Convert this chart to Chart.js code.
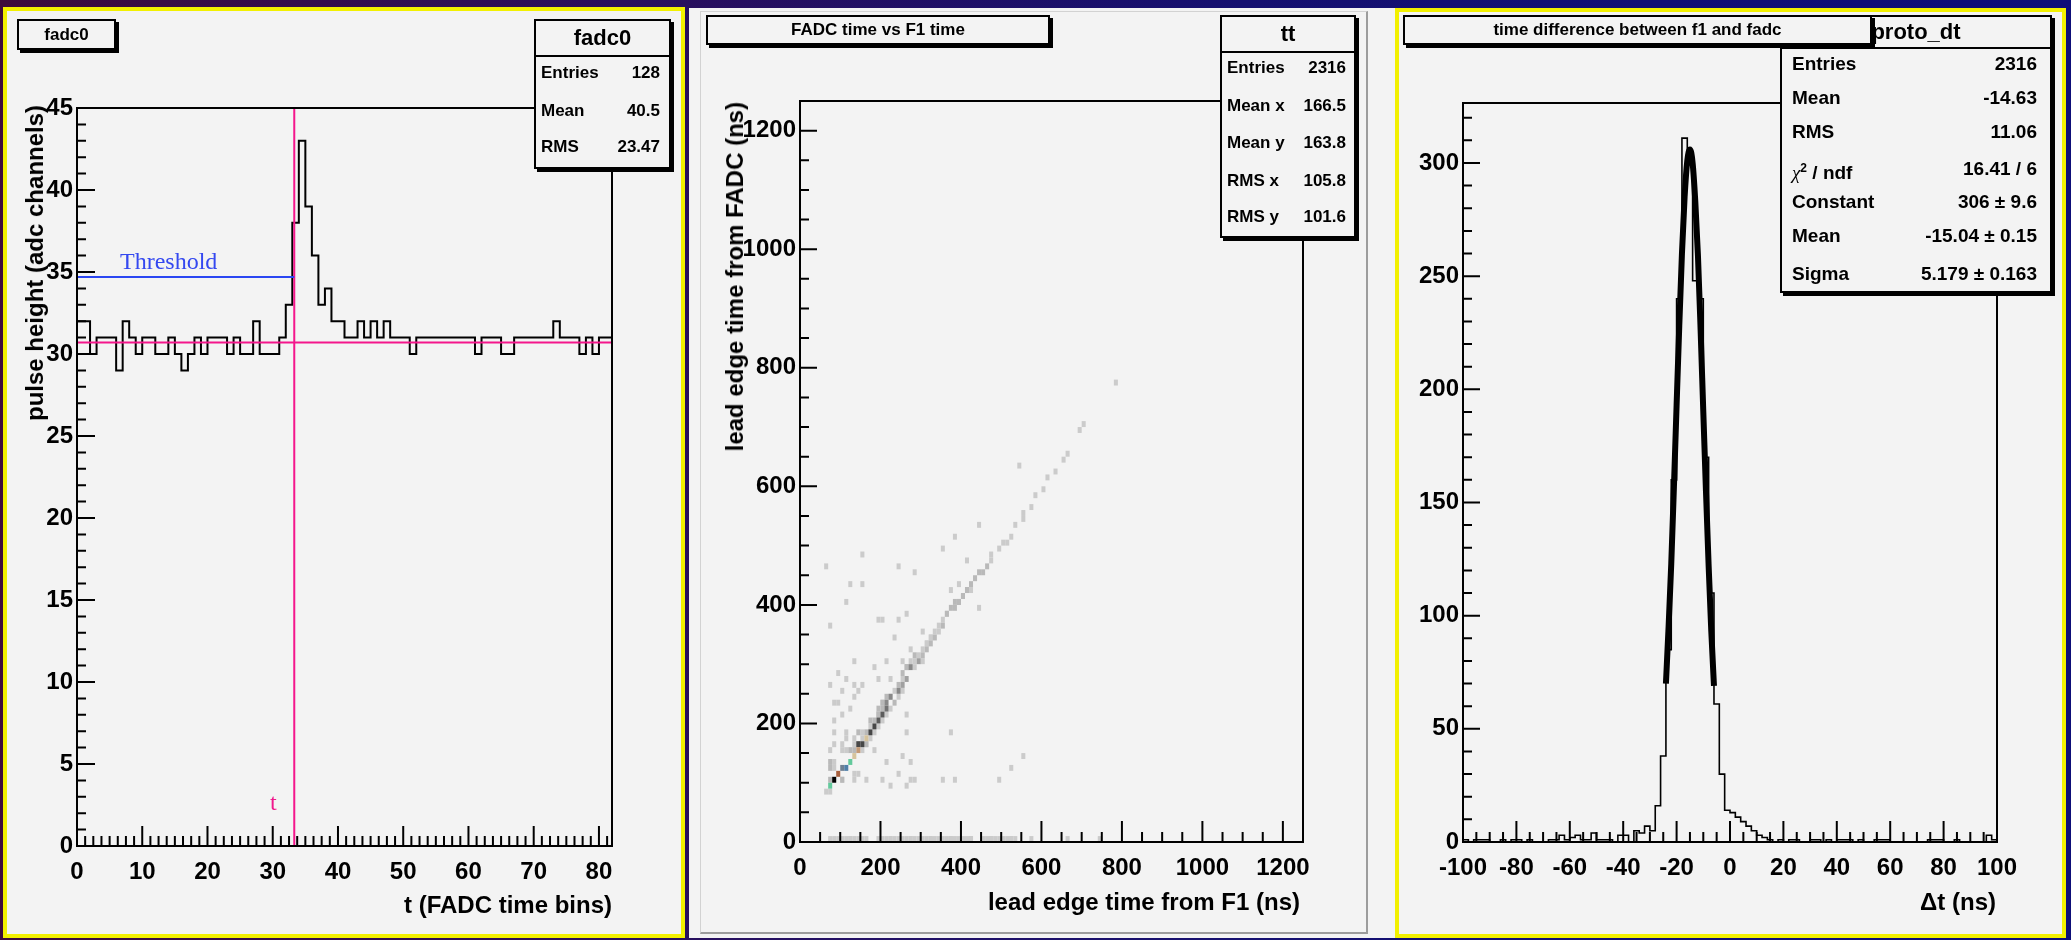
<!DOCTYPE html>
<html>
<head>
<meta charset="utf-8">
<title>FADC / F1 timing</title>
<script src="https://cdn.jsdelivr.net/npm/chart.js@4.4.1/dist/chart.umd.min.js"></script>
<style>
  html, body { margin:0; padding:0; }
  body { width:2071px; height:940px; position:relative; overflow:hidden;
         background: linear-gradient(90deg, #3d0b3b 0%, #2a0f5c 30%, #151070 60%, #0d0e78 100%);
         font-family: 'Liberation Sans', Arial, Helvetica, sans-serif; }
  .panel { position:absolute; background:#f3f3f3; box-sizing:border-box; }
  .yellow { border:4px solid #f2f000; }
  .bevel { position:absolute; box-sizing:border-box; border-left:1px solid #d2d2d2; border-top:1px solid #d2d2d2;
           border-right:2px solid #9c9c9c; border-bottom:2px solid #9c9c9c; }
  canvas { position:absolute; top:0; z-index:2; }
  .tbox { position:absolute; box-sizing:border-box; border:2px solid #000; background:#f3f3f3;
          box-shadow:3px 3px 0 #000; font-weight:bold; font-size:17px; z-index:6;
          display:flex; align-items:center; justify-content:center; white-space:nowrap; }
  .sbox { position:absolute; box-sizing:border-box; border:2px solid #000; background:#f3f3f3;
          box-shadow:3px 3px 0 #000; font-weight:bold; z-index:5; }
  .shead { position:absolute; left:0; right:0; top:0; box-sizing:border-box; border-bottom:2px solid #000;
           display:flex; align-items:center; justify-content:center; font-size:22px; white-space:nowrap; }
  .srow { position:absolute; white-space:nowrap; }
  .axt { position:absolute; font-weight:bold; font-size:24px; line-height:24px; white-space:nowrap; z-index:4; color:#000; }
  .vt { writing-mode:vertical-rl; transform:rotate(180deg); }
  .ann { position:absolute; font-family:'Liberation Serif', 'Times New Roman', serif; font-size:24px; line-height:24px; white-space:nowrap; z-index:4; }
  .sym { font-family:'Liberation Serif', 'DejaVu Serif', serif; font-weight:normal; font-style:italic; }
</style>
</head>
<body>

<!-- panel backgrounds -->
<div class="panel yellow" style="left:3px;top:7px;width:682px;height:931px;"></div>
<div class="panel" style="left:689px;top:8px;width:708px;height:930px;"></div>
<div class="bevel" style="left:700px;top:11px;width:668px;height:923px;z-index:1;"></div>
<div class="panel yellow" style="left:1395px;top:8px;width:671px;height:930px;"></div>

<canvas id="cFadc" width="690" height="940" style="left:0px;"></canvas>
<canvas id="cTT" width="700" height="940" style="left:690px;"></canvas>
<canvas id="cDT" width="681" height="940" style="left:1390px;"></canvas>

<!-- titles -->
<div class="tbox" style="left:17px;top:19px;width:99px;height:31px;">fadc0</div>
<div class="tbox" style="left:706px;top:15px;width:344px;height:30px;">FADC time vs F1 time</div>
<div class="tbox" style="left:1403px;top:15px;width:469px;height:30px;">time difference between f1 and fadc</div>

<!-- axis titles -->
<div class="axt" style="right:1459px;top:893px;">t (FADC time bins)</div>
<div class="axt vt" style="left:23px;top:105px;">pulse height (adc channels)</div>
<div class="axt" style="right:771px;top:890px;">lead edge time from F1 (ns)</div>
<div class="axt vt" style="left:723px;top:102px;">lead edge time from FADC (ns)</div>
<div class="axt" style="right:75px;top:890px;">Δt (ns)</div>

<!-- annotations in the fadc0 pad -->
<div class="ann" style="left:120px;top:249px;color:#3448f0;">Threshold</div>
<div class="ann" style="left:270px;top:790px;color:#f0188c;">t</div>

<div id="stats"></div>

<script>
// ---------------- data ----------------
// fadc0 : pulse samples, one value per FADC time bin (bins 0..81)
const fadcCounts = [
  32,32,30,31,31,31,29,32,31,30,
  31,31,30,30,31,30,29,30,31,30,
  31,31,31,30,31,30,30,32,30,30,
  30,31,33,38,43,39,36,33,34,32,
  32,31,31,32,31,32,31,32,31,31,
  31,30,31,31,31,31,31,31,31,31,
  31,30,31,31,31,30,30,31,31,31,
  31,31,31,32,31,31,31,30,31,30,
  31,31
];
const fadcThreshold = 34.7;
const fadcPedestal = 30.7;
const fadcLeadEdge = 33.3;
const fadcXTicks = [0,10,20,30,40,50,60,70,80];
const fadcYTicks = [0,5,10,15,20,25,30,35,40,45];

// proto_dt : 2 ns bins from -100 to 100
const dtBinLow = -100;
const dtBinWidth = 2;
const dtCounts = [
  1,0,1,1,1,0,0,1,0,1,
  1,0,1,0,0,0,1,1,3,1,
  2,3,1,1,4,1,1,1,0,3,
  3,0,5,4,7,5,16,38,85,160,
  240,311,305,248,240,170,110,61,30,14,
  13,11,9,7,5,3,2,1,0,1,
  0,1,1,0,0,1,1,0,1,0,
  1,1,1,0,1,0,0,1,1,1,
  0,0,0,0,0,0,0,1,1,1,
  0,0,1,0,0,0,0,0,3,1
];
// gaussian fit curve as drawn
const dtFitX = [-24,-23,-22,-21,-20,-19,-18,-17,-16,-15,-14,-13,-12,-11,-10,-9,-8,-7,-6];
const dtFitY = [70,95,123,157,193,228,260,285,301,306,300,283,259,226,190,155,122,93,69];
const dtXTicks = [-100,-80,-60,-40,-20,0,20,40,60,80,100];
const dtYTicks = [0,50,100,150,200,250,300];

// tt : 2D histogram, lead edge time F1 (x) vs FADC (y), ns, 10 ns cells
const ttCoreX = [62,71,73,82,75,92,100,112,123,132,140,148,155,163,172,183,193,202,212,219,229,240,252,262,277,292,302,312,325,333,348,358,367,383,392,404,417,
  73,82,73,82,100,108,138,146,133,167,117,125,138,146,155,179,192,196,208,222,250,262,275,288,317,325,354,362,375,383,392,400,
  413,423,423,433,443,453,463,473,473,493,504,513,523,533,554,554,573,583,604,613,633,654,663,693,704,783];
const ttCoreY = [86,86,95,106,106,114,121,128,136,144,151,160,169,178,186,197,207,216,225,233,243,253,266,275,293,303,311,322,333,343,354,369,381,394,403,414,428,
  128,128,137,137,108,108,117,117,106,106,150,158,178,183,183,200,219,228,236,243,283,294,306,311,339,344,378,383,392,400,408,412,
  424,424,433,443,452,458,464,475,484,494,504,509,519,531,542,550,561,581,591,611,621,642,652,691,701,771];
const ttCoreLevel = [1,1,14,15,2,10,11,12,14,8,9,7,7,8,7,7,6,6,5,4,4,4,3,3,4,3,2,2,2,2,1,2,2,2,2,2,2,
  2,1,2,1,1,2,1,1,1,1,1,2,1,2,1,2,2,2,2,1,2,2,1,2,1,1,1,1,2,2,2,2,
  2,1,2,2,2,2,2,1,1,1,1,1,1,1,1,1,1,1,1,1,1,1,1,1,1,1];
// light cells on both sides of the diagonal band
const ttBandX = [130,138,145,153,162,173,183,192,202,209,219,230,242,252,267,282,292,302,315,323,338,348,
  152,160,167,175,184,195,205,214,224,231,241,252,287,302];
const ttBandY = [151,160,169,178,186,197,207,216,225,233,243,253,266,275,293,303,311,322,333,343,354,369,
  151,160,169,178,186,197,207,216,225,233,243,253,293,303];
const ttBandLevel = [2,1,2,1,2,1,2,2,2,1,2,1,2,1,2,1,1,1,1,1,1,1,
  1,2,1,1,1,1,1,1,1,2,1,1,1,1];
const ttOutlierX = [542,443,383,353,413,393,373,443,283,242,153,63,123,153,113,71,196,206,242,263,303,232,273,133,212,183,92,254,112,193,223,73,133,152,102,144,133,87,95,123,102,262,82,82,112,262,373,82,102,112,73,100,183,253,212,273,554,523,242,202,275,283,358,383,493,223,262];
const ttOutlierY = [632,533,513,494,475,433,424,394,454,464,484,464,433,433,404,364,374,374,374,383,353,344,323,304,304,293,283,303,273,273,273,263,263,263,253,253,243,233,233,225,217,217,207,186,186,186,186,168,168,178,157,157,157,147,137,137,147,127,117,106,106,106,106,106,106,96,96];
const ttFloorX = [79,88,96,104,113,121,129,138,146,154,163,196,204,213,221,229,238,246,254,263,271,279,288,296,304,313,321,329,338,346,354,363,371,379,388,396,404,413,421,429,454,463,471,479,488,496,504,513,521,529,538,571,662,742];
const ttFloorY = 5;
const ttBinWidth = 10;
const ttXTicks = [0,200,400,600,800,1000,1200];
const ttYTicks = [0,200,400,600,800,1000,1200];

// stats boxes text
const fadcStatsTitle = 'fadc0';
const fadcStatsLabels = ['Entries','Mean','RMS'];
const fadcStatsValues = ['128','40.5','23.47'];
const ttStatsTitle = 'tt';
const ttStatsLabels = ['Entries','Mean x','Mean y','RMS x','RMS y'];
const ttStatsValues = ['2316','166.5','163.8','105.8','101.6'];
const dtStatsTitle = 'proto_dt';
const dtStatsLabels = ['Entries','Mean','RMS','<span class="sym">χ</span><sup style="font-size:12px">2</sup> / ndf','Constant','Mean','Sigma'];
const dtStatsValues = ['2316','-14.63','11.06','16.41 / 6','306 ± 9.6','-15.04 ± 0.15','5.179 ± 0.163'];

// ---------------- styles ----------------
const ttPalette = [null,'#cbcbcb','#b9b9b9','#a0a0a0','#898989','#727272','#5c5c5c','#474747',
  '#d6c39c','#c49a76','#a8603e','#6f7f92','#4f7ea8','#4fa0a8','#63c99c','#000000'];
const FONT = "'Liberation Sans', Arial, Helvetica, sans-serif";

// ---------------- stats boxes ----------------
function makeStats(g, title, labels, values) {
  const box = document.createElement('div');
  box.className = 'sbox';
  Object.assign(box.style, {left:g.left+'px', top:g.top+'px', width:g.width+'px', height:g.height+'px'});
  const h = document.createElement('div');
  h.className = 'shead';
  h.style.height = g.head + 'px';
  h.textContent = title;
  box.appendChild(h);
  labels.forEach((lab, i) => {
    const top = g.rows[i] - g.fs / 2 - 2;
    const l = document.createElement('div');
    l.className = 'srow';
    Object.assign(l.style, {left:g.padL+'px', top:top+'px', fontSize:g.fs+'px', lineHeight:g.fs+'px'});
    l.innerHTML = lab;
    const v = document.createElement('div');
    v.className = 'srow';
    Object.assign(v.style, {right:g.padR+'px', top:top+'px', fontSize:g.fs+'px', lineHeight:g.fs+'px'});
    v.textContent = values[i];
    box.appendChild(l); box.appendChild(v);
  });
  document.getElementById('stats').appendChild(box);
}
makeStats({left:534, top:19, width:137, height:150, head:36, fs:17, padL:5, padR:9, rows:[53,91,127]},
  fadcStatsTitle, fadcStatsLabels, fadcStatsValues);
makeStats({left:1220, top:15, width:136, height:223, head:36, fs:17, padL:5, padR:8, rows:[52,90,127,165,201]},
  ttStatsTitle, ttStatsLabels, ttStatsValues);
makeStats({left:1780, top:15, width:272, height:278, head:32, fs:19, padL:10, padR:13, rows:[48,82,116,153,186,220,258]},
  dtStatsTitle, dtStatsLabels, dtStatsValues);

// ---------------- plugins ----------------
const rootAxes = {
  id: 'rootAxes',
  afterDatasetsDraw(chart, args, o) {
    const {ctx, chartArea: a, scales: {x, y}} = chart;
    ctx.save();
    ctx.strokeStyle = '#000';
    ctx.lineWidth = 2;
    ctx.beginPath();
    const nx = Math.round((x.max - x.min) / o.xMinor);
    for (let i = 0; i <= nx; i++) {
      const v = x.min + i * o.xMinor;
      if (v > x.max + 1e-9) break;
      const major = Math.abs(v / o.xMajor - Math.round(v / o.xMajor)) < 1e-6;
      const px = x.getPixelForValue(v);
      ctx.moveTo(px, a.bottom);
      ctx.lineTo(px, a.bottom - (major ? o.xMajorLen : o.xMinorLen));
    }
    const ny = Math.round((y.max - y.min) / o.yMinor);
    for (let i = 0; i <= ny; i++) {
      const v = y.min + i * o.yMinor;
      if (v > y.max + 1e-9) break;
      const major = Math.abs(v / o.yMajor - Math.round(v / o.yMajor)) < 1e-6;
      const py = y.getPixelForValue(v);
      ctx.moveTo(a.left, py);
      ctx.lineTo(a.left + (major ? o.yMajorLen : o.yMinorLen), py);
    }
    ctx.stroke();
    ctx.strokeRect(a.left, a.top, a.right - a.left, a.bottom - a.top);
    ctx.restore();
  }
};

const fadcMarks = {
  id: 'fadcMarks',
  afterDatasetsDraw(chart) {
    const {ctx, scales: {x, y}} = chart;
    ctx.save();
    ctx.lineWidth = 2;
    ctx.strokeStyle = '#f4168c';
    ctx.beginPath();
    ctx.moveTo(x.getPixelForValue(fadcLeadEdge), y.getPixelForValue(y.min));
    ctx.lineTo(x.getPixelForValue(fadcLeadEdge), y.getPixelForValue(y.max));
    ctx.moveTo(x.getPixelForValue(x.min), y.getPixelForValue(fadcPedestal));
    ctx.lineTo(x.getPixelForValue(x.max), y.getPixelForValue(fadcPedestal));
    ctx.stroke();
    ctx.strokeStyle = '#2a46f2';
    ctx.beginPath();
    ctx.moveTo(x.getPixelForValue(x.min), y.getPixelForValue(fadcThreshold));
    ctx.lineTo(x.getPixelForValue(fadcLeadEdge), y.getPixelForValue(fadcThreshold));
    ctx.stroke();
    ctx.restore();
  }
};

const ttCells = {
  id: 'ttCells',
  beforeDatasetsDraw(chart) {
    const {ctx, chartArea: a, scales: {x, y}} = chart;
    const cells = [];
    chart.data.datasets.forEach(ds => ds.data.forEach(p => cells.push(p)));
    cells.sort((p, q) => p.level - q.level);
    ctx.save();
    ctx.beginPath();
    ctx.rect(a.left, a.top, a.right - a.left, a.bottom - a.top);
    ctx.clip();
    cells.forEach(p => {
      const i = Math.floor(p.x / ttBinWidth), j = Math.floor(p.y / ttBinWidth);
      const x0 = x.getPixelForValue(i * ttBinWidth), x1 = x.getPixelForValue((i + 1) * ttBinWidth);
      const y0 = y.getPixelForValue(j * ttBinWidth), y1 = y.getPixelForValue((j + 1) * ttBinWidth);
      ctx.fillStyle = ttPalette[p.level];
      ctx.fillRect(x0, y1, x1 - x0, y0 - y1);
    });
    ctx.restore();
  }
};

// ---------------- chart factory ----------------
function axis(min, max, tickValues, isX) {
  return {
    type: 'linear', min, max, bounds: 'data',
    grid: {display: false, drawTicks: false},
    border: {display: false},
    ticks: {
      autoSkip: false, maxRotation: 0, minRotation: 0, includeBounds: false,
      padding: isX ? 12 : 4, color: '#000',
      font: {family: FONT, size: 24, weight: 'bold'},
      callback: v => String(v)
    },
    afterBuildTicks: s => { s.ticks = tickValues.map(v => ({value: v})); },
    afterFit: s => {
      if (isX) { s.height = 60; s.paddingLeft = 0; s.paddingRight = 0; }
      else { s.width = 70; s.paddingTop = 0; s.paddingBottom = 0; }
    }
  };
}
function options(padding, xs, ys, ticks) {
  return {
    responsive: false, animation: false, devicePixelRatio: 1, events: [],
    layout: {padding},
    plugins: {legend: {display: false}, tooltip: {enabled: false}, rootAxes: ticks},
    scales: {x: xs, y: ys}
  };
}

// fadc0
const fadcPoints = fadcCounts.map((v, i) => ({x: i, y: v}));
fadcPoints.push({x: fadcCounts.length, y: fadcCounts[fadcCounts.length - 1]});
new Chart(document.getElementById('cFadc'), {
  type: 'line',
  data: {datasets: [{data: fadcPoints, stepped: true, borderColor: '#000', borderWidth: 2, pointRadius: 0, fill: false}]},
  options: options({left: 7, right: 78, top: 108, bottom: 34},
    axis(0, 82, fadcXTicks, true), axis(0, 45, fadcYTicks, false),
    {xMajor: 10, xMinor: 1.25, yMajor: 5, yMinor: 1, xMajorLen: 20, xMinorLen: 10, yMajorLen: 18, yMinorLen: 9}),
  plugins: [fadcMarks, rootAxes]
});

// tt
const ttCore = ttCoreX.map((x, i) => ({x, y: ttCoreY[i], level: ttCoreLevel[i]}));
const ttBand = ttBandX.map((x, i) => ({x, y: ttBandY[i], level: ttBandLevel[i]}));
const ttOut = ttOutlierX.map((x, i) => ({x, y: ttOutlierY[i], level: 1}));
const ttFloor = ttFloorX.map(x => ({x, y: ttFloorY, level: 1}));
new Chart(document.getElementById('cTT'), {
  type: 'scatter',
  data: {datasets: [
    {data: ttFloor, pointRadius: 0},
    {data: ttOut, pointRadius: 0},
    {data: ttBand, pointRadius: 0},
    {data: ttCore, pointRadius: 0}
  ]},
  options: options({left: 40, right: 87, top: 101, bottom: 38},
    axis(0, 1250, ttXTicks, true), axis(0, 1250, ttYTicks, false),
    {xMajor: 200, xMinor: 50, yMajor: 200, yMinor: 50, xMajorLen: 21, xMinorLen: 10, yMajorLen: 17, yMinorLen: 9}),
  plugins: [ttCells, rootAxes]
});

// proto_dt
const dtPoints = dtCounts.map((v, i) => ({x: dtBinLow + i * dtBinWidth, y: v}));
dtPoints.push({x: dtBinLow + dtCounts.length * dtBinWidth, y: dtCounts[dtCounts.length - 1]});
const dtFit = dtFitX.map((x, i) => ({x, y: dtFitY[i]}));
new Chart(document.getElementById('cDT'), {
  type: 'line',
  data: {datasets: [
    {data: dtPoints, stepped: true, borderColor: '#000', borderWidth: 1.6, pointRadius: 0, fill: false},
    {data: dtFit, borderColor: '#000', borderWidth: 6, pointRadius: 0, fill: false, cubicInterpolationMode: 'monotone'}
  ]},
  options: options({left: 3, right: 74, top: 103, bottom: 38},
    axis(-100, 100, dtXTicks, true), axis(0, 326.5, dtYTicks, false),
    {xMajor: 20, xMinor: 5, yMajor: 50, yMinor: 10, xMajorLen: 21, xMinorLen: 10, yMajorLen: 17, yMinorLen: 9}),
  plugins: [rootAxes]
});
</script>
</body>
</html>
